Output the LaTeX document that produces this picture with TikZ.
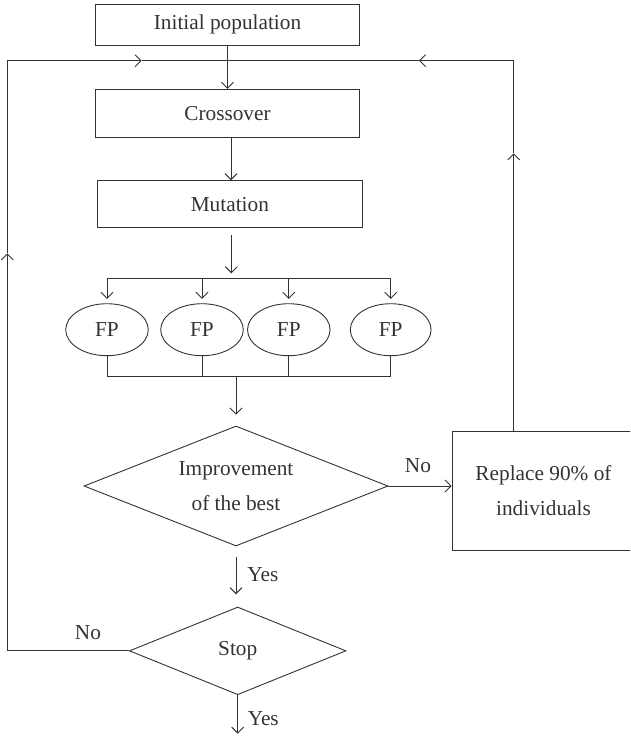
\documentclass[tikz,border=0pt]{standalone}
\usepackage{fontspec}
\setmainfont{Liberation Serif}
\usetikzlibrary{shapes.geometric,arrows.meta}
\begin{document}
\begin{tikzpicture}[x=1pt,y=-1pt,
  line width=0.9pt, color=black!80,
  arr/.style={-{Straight Barb[length=6pt,width=12pt]}},
  box/.style={draw, rectangle, inner sep=0pt},
  fp/.style={draw, ellipse, minimum width=82.6pt, minimum height=52pt, inner sep=0pt},
  dec/.style={draw, diamond, aspect=2.5, inner sep=0pt, align=center},
  lbl/.style={inner sep=0pt},
  every node/.style={font=\fontsize{21.3}{35}\selectfont}
]
\useasboundingbox (0,0) rectangle (630,737);
\clip (0,0) rectangle (630,737);

% main nodes
\node[box, minimum width=263.6pt, minimum height=40.3pt] (init) at (227.5,24.85) {Initial population};
\node[box, minimum width=263.6pt, minimum height=47.7pt] (cross) at (227.5,113.15) {Crossover};
\node[box, minimum width=264.3pt, minimum height=47pt] (mut) at (229.85,204.2) {Mutation};
\node[fp] (fp1) at (107,329.7) {FP};
\node[fp] (fp2) at (202,329.7) {FP};
\node[fp] (fp3) at (288.8,329.7) {FP};
\node[fp, minimum width=80.8pt] (fp4) at (390.7,329.7) {FP};
\node[dec, minimum width=304pt, minimum height=120pt] (imp) at (236,486) {Improvement\\of the best};
\node[box, minimum width=183pt, minimum height=119.7pt, align=center] (rep) at (543.5,490.85) {Replace 90\% of\\individuals};
\node[dec, minimum width=216.6pt, minimum height=87.7pt] (stop) at (237.7,650.85) {Stop};

% helper coordinates
\coordinate (bt1) at (106.7,278.3);
\coordinate (bt4) at (390.7,278.3);
\coordinate (bb1) at (106.7,376.7);
\coordinate (bb4) at (390.7,376.7);
\coordinate (busIn) at (231.3,273.3);
\coordinate (loopTL) at (7.3,60.7);
\coordinate (loopTR) at (513.7,60.7);
\coordinate (loopBL) at (7.3,650.85);
\coordinate (join) at (227.5,60.7);
\coordinate (mkUpL) at (7.3,253.3);
\coordinate (mkR) at (141.7,60.7);
\coordinate (mkL) at (419,60.7);
\coordinate (mkUpR) at (513.7,153.3);
\coordinate (endpt) at (237.7,733.7);

% connectors
\draw[arr] (init.south) -- (cross.north);
\draw[arr] ([xshift=3.5pt]cross.south) -- ([xshift=3.5pt]cross.south |- mut.north);
\draw[arr] ([yshift=-6.6pt]mut.south -| busIn) -- (busIn);
\draw (bt1) -- (bt4);
\foreach \n in {1,...,4} {
  \draw[arr, shorten >=4.4pt] (fp\n.north |- bt1) -- (fp\n.north);
  \draw (fp\n.south) -- (fp\n.south |- bb1);
}
\draw (bb1) -- (bb4);
\draw[arr, shorten >=11pt] (imp.north |- bb1) -- (imp.north);
\draw[arr] (imp.east) -- (imp.east -| rep.west);
\draw[arr, shorten <=10.3pt, shorten >=12.3pt] (imp.south) -- (imp.south |- stop.north);
\draw[arr] (stop.south) -- (endpt);

% loops
\draw[arr] (stop.west) -- (loopBL) -- (mkUpL);
\draw[arr] (mkUpL) -- (loopTL) -- (mkR);
\draw (mkR) -- (join);
\draw[arr] (loopTR |- rep.north) -- (mkUpR);
\draw[arr] (mkUpR) -- (loopTR) -- (mkL);
\draw (mkL) -- (join);

% labels
\node[lbl, anchor=west] (yes1) at (247,574.7) {Yes};
\node[lbl, anchor=west] (yes2) at (247.3,718.7) {Yes};
\node[lbl] (no1) at (418,466) {No};
\node[lbl] (no2) at (88,633) {No};
\end{tikzpicture}
\end{document}
